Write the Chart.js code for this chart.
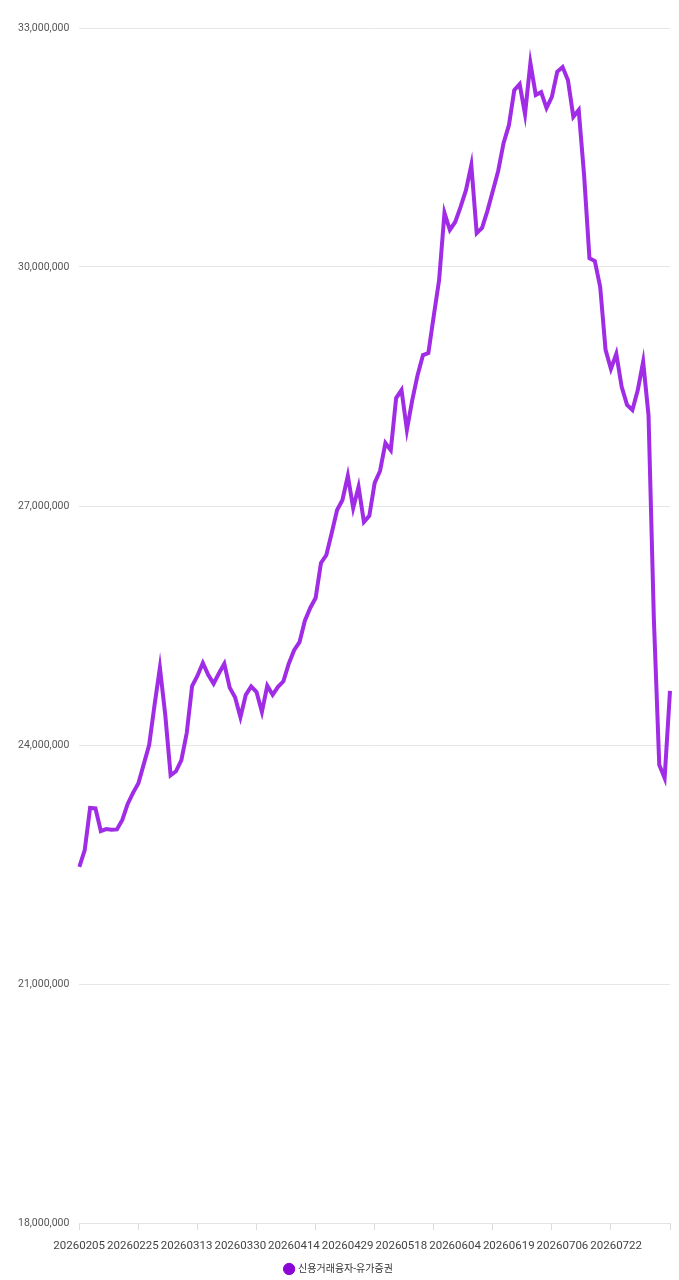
<!DOCTYPE html>
<html lang="ko">
<head>
<meta charset="utf-8">
<title>신용거래융자-유가증권</title>
<script src="https://cdn.jsdelivr.net/npm/chart.js@4.4.1/dist/chart.umd.min.js"></script>
<style>
  html, body { margin: 0; padding: 0; background: #fff; }
  #wrap { position: relative; width: 679px; height: 1280px; }
</style>
</head>
<body>
<div id="wrap"><canvas id="creditChart"></canvas></div>
<script>
// 거래일 (영업일 기준)
const dates = [
    '20260205', '20260206', '20260209', '20260210', '20260211', '20260212', '20260213', '20260219', '20260220', '20260223', '20260224',
    '20260225', '20260226', '20260227', '20260303', '20260304', '20260305', '20260306', '20260309', '20260310', '20260311', '20260312',
    '20260313', '20260316', '20260317', '20260318', '20260319', '20260320', '20260323', '20260324', '20260325', '20260326', '20260327',
    '20260330', '20260331', '20260401', '20260402', '20260403', '20260406', '20260407', '20260408', '20260409', '20260410', '20260413',
    '20260414', '20260415', '20260416', '20260417', '20260420', '20260421', '20260422', '20260423', '20260424', '20260427', '20260428',
    '20260429', '20260430', '20260504', '20260506', '20260507', '20260508', '20260511', '20260512', '20260513', '20260514', '20260515',
    '20260518', '20260519', '20260520', '20260521', '20260522', '20260526', '20260527', '20260528', '20260529', '20260601', '20260602',
    '20260604', '20260605', '20260608', '20260609', '20260610', '20260611', '20260612', '20260615', '20260616', '20260617', '20260618',
    '20260619', '20260622', '20260623', '20260624', '20260625', '20260626', '20260629', '20260630', '20260701', '20260702', '20260703',
    '20260706', '20260707', '20260708', '20260709', '20260710', '20260713', '20260714', '20260715', '20260716', '20260720', '20260721',
    '20260722'
];

// 신용거래융자 잔고 - 유가증권 (원)
const creditBalance = [
    22470000, 22680000, 23210000, 23205000, 22920000, 22945000, 22935000, 22940000, 23060000, 23260000, 23400000,
    23520000, 23760000, 24000000, 24500000, 24970000, 24380000, 23620000, 23670000, 23810000, 24150000, 24740000,
    24870000, 25030000, 24880000, 24770000, 24900000, 25020000, 24720000, 24600000, 24350000, 24630000, 24735000,
    24665000, 24415000, 24745000, 24630000, 24730000, 24800000, 25020000, 25190000, 25290000, 25560000, 25720000,
    25845000, 26285000, 26385000, 26660000, 26950000, 27075000, 27380000, 26975000, 27240000, 26800000, 26875000,
    27290000, 27440000, 27790000, 27700000, 28355000, 28455000, 27955000, 28330000, 28645000, 28895000, 28920000,
    29385000, 29835000, 30680000, 30465000, 30565000, 30755000, 30965000, 31280000, 30425000, 30490000, 30705000,
    30955000, 31205000, 31555000, 31780000, 32220000, 32295000, 31920000, 32560000, 32160000, 32195000, 31995000,
    32135000, 32450000, 32510000, 32345000, 31885000, 31970000, 31155000, 30110000, 30075000, 29750000, 28960000,
    28720000, 28910000, 28495000, 28270000, 28205000, 28455000, 28810000, 28140000, 25570000, 23750000, 23585000,
    24680000
];

// y축 눈금
const yMin = 18000000;
const yMax = 33000000;
const yStep = 3000000;

// x축 라벨 (11 영업일 간격)
const labelEvery = 11;
const tickLabels = dates.filter((d, i) => i % labelEvery === 0);

Chart.defaults.font.family = "Roboto, 'Noto Sans CJK KR', sans-serif";

new Chart(document.getElementById('creditChart'), {
    type: 'line',
    data: {
        labels: dates,
        datasets: [{
            label: '신용거래융자-유가증권',
            data: creditBalance,
            borderColor: '#a02ce6',
            backgroundColor: '#8a05d6',
            borderWidth: 4,
            pointRadius: 0,
            tension: 0,
            fill: false
        }]
    },
    options: {
        responsive: true,
        maintainAspectRatio: false,
        animation: false,
        layout: { padding: { top: 28, left: 8, right: 9, bottom: -4 } },
        plugins: {
            tooltip: { enabled: false },
            legend: {
                position: 'bottom',
                labels: {
                    usePointStyle: true,
                    pointStyle: 'circle',
                    boxWidth: 8,
                    boxHeight: 8,
                    padding: 12,
                    color: '#333',
                    font: { size: 10 },
                    generateLabels(chart) {
                        const items = Chart.defaults.plugins.legend.labels.generateLabels(chart);
                        items.forEach(item => {
                            item.lineWidth = 1;
                            item.strokeStyle = item.fillStyle;
                        });
                        return items;
                    }
                }
            }
        },
        scales: {
            x: {
                ticks: { display: false, autoSkip: false },
                grid: {
                    drawOnChartArea: false,
                    tickLength: 7,
                    color: ctx => ctx.index % labelEvery === 0 ? '#dcdcdc' : 'rgba(0,0,0,0)'
                },
                border: { color: '#e3e3e3' }
            },
            // 날짜 라벨 전용 축
            xDates: {
                type: 'category',
                labels: tickLabels,
                position: 'bottom',
                offset: true,
                weight: 1,
                grid: { display: false, drawTicks: false },
                border: { display: false },
                ticks: {
                    autoSkip: false,
                    maxRotation: 0,
                    labelOffset: -27,
                    padding: 9,
                    color: '#444',
                    font: { size: 11.5 }
                },
                afterFit(scale) {
                    scale.height = 22;
                }
            },
            y: {
                min: yMin,
                max: yMax,
                ticks: {
                    stepSize: yStep,
                    padding: 10,
                    color: '#555',
                    font: { size: 10.5 },
                    callback: v => v.toLocaleString('en-US')
                },
                grid: { color: '#e6e6e6', drawTicks: false },
                border: { display: false }
            }
        }
    }
});
</script>
</body>
</html>
